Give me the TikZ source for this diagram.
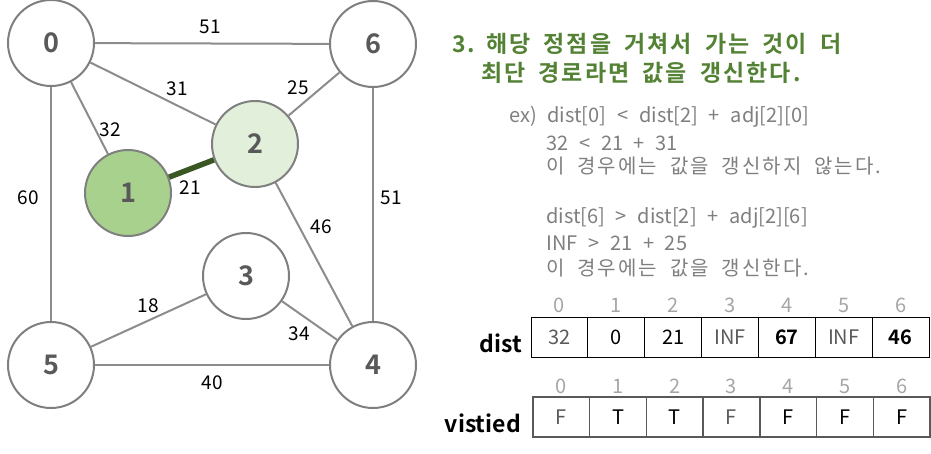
\documentclass[tikz,border=0pt]{standalone}
\usepackage{fontspec}
\setmainfont{Noto Sans CJK KR}[BoldFont={Noto Sans CJK KR Bold}]
\newfontfamily\headfont{Noto Sans CJK KR Bold}[LetterSpace=9, WordSpace=1.8]
\newfontfamily\notekr{Noto Sans CJK KR}[LetterSpace=10, WordSpace=2.0]
\newfontfamily\notelat{Noto Sans CJK KR}[WordSpace=2.4]
\definecolor{cBorder}{HTML}{7F7F7F}
\definecolor{cEdge}{HTML}{8C8C8C}
\definecolor{cNum}{HTML}{595959}
\definecolor{cGreenA}{HTML}{A9D18E}
\definecolor{cGreenB}{HTML}{E2EFDA}
\definecolor{cDark}{HTML}{385723}
\definecolor{cHead}{HTML}{548235}
\definecolor{cGray}{HTML}{7F7F7F}
\definecolor{cIdx}{HTML}{A6A6A6}
\definecolor{cCell}{HTML}{595959}
\tikzset{
  vtx/.style={circle, draw=cBorder, line width=2pt, minimum size=86pt, inner sep=0pt,
    font=\fontsize{27}{30}\selectfont\bfseries, text=cNum, fill=white},
  edge/.style={draw=cEdge, line width=2pt},
  wlab/.style={font=\fontsize{19}{22}\selectfont, text=black, inner sep=0pt},
  head/.style={font=\headfont\fontsize{23}{25}\selectfont, text=cHead, inner sep=0pt, anchor=west},
  notek/.style={font=\notekr\fontsize{20}{22}\selectfont, text=cGray, inner sep=0pt, anchor=west},
  notel/.style={font=\notelat\fontsize{20}{22}\selectfont, text=cGray, inner sep=0pt, anchor=west},
  dcell/.style={draw=black, line width=1pt, minimum width=56.86pt, minimum height=40pt, inner sep=0pt,
    font=\fontsize{20}{22}\selectfont},
  vcell/.style={draw=cNum, line width=1.4pt, minimum width=56.71pt, minimum height=40pt, inner sep=0pt,
    font=\fontsize{20}{22}\selectfont},
  idx/.style={font=\fontsize{20}{22}\selectfont, text=cIdx, inner sep=0pt},
  tlab/.style={font=\fontsize{23}{26}\selectfont\bfseries, text=black, inner sep=0pt, anchor=east},
}
\begin{document}
\begin{tikzpicture}[x=1pt,y=-1pt]
\useasboundingbox (0,0) rectangle (931,453);
% vertices
\node[vtx] (n0) at (51,43) {0};
\node[vtx] (n6) at (373,44) {6};
\node[vtx, fill=cGreenB] (n2) at (255,144) {2};
\node[vtx, fill=cGreenA] (n1) at (128,193) {1};
\node[vtx] (n3) at (246,276) {3};
\node[vtx] (n5) at (51,365) {5};
\node[vtx] (n4) at (373,365) {4};
% edges
\draw[edge] (n0) -- (n6);
\draw[edge] (n0) -- (n2);
\draw[edge] (n0) -- (n1);
\draw[edge] (n0) -- (n5);
\draw[edge] (n6) -- (n2);
\draw[edge] (n6) -- (n4);
\draw[edge] (n2) -- (n4);
\draw[edge] (n3) -- (n5);
\draw[edge] (n3) -- (n4);
\draw[edge] (n5) -- (n4);
\draw[draw=cDark, line width=5.5pt] (n1) -- (n2);
% weights
\node[wlab] (w06) at (210,27) {51};
\node[wlab] (w02) at (177,89) {31};
\node[wlab] (w01) at (110,130) {32};
\node[wlab] (w05) at (28,198) {60};
\node[wlab] (w62) at (298,88) {25};
\node[wlab] (w64) at (391,198) {51};
\node[wlab] (w12) at (190,188) {21};
\node[wlab] (w24) at (321,227) {46};
\node[wlab] (w35) at (148,306) {18};
\node[wlab] (w34) at (299,334) {34};
\node[wlab] (w54) at (212,383) {40};
% heading
\node[head] (h0) at (452,44) {3.};
\node[head] (h1) at (486,44) {해당 정점을 거쳐서 가는 것이 더};
\node[head] (h2) at (481,73) {최단 경로라면 값을 갱신한다.};
% notes
\node[notel] (t1) at (509,117) {ex) dist[0] < dist[2] + adj[2][0]};
\node[notel] (t2) at (546,143) {32 < 21 + 31};
\node[notek] (t3) at (546,166) {이 경우에는 값을 갱신하지 않는다.};
\node[notel] (t4) at (546,218) {dist[6] > dist[2] + adj[2][6]};
\node[notel] (t5) at (546,243) {INF > 21 + 25};
\node[notek] (t6) at (546,268) {이 경우에는 값을 갱신한다.};
% dist table
\foreach \i/\t/\c in {0/32/cCell,1/0/black,2/21/black,3/INF/cCell,4/\textbf{67}/black,5/INF/cCell,6/\textbf{46}/black}{
  \node[dcell, text=\c] (d\i) at ({559.43+\i*56.857},337) {\t};
  \node[idx] (di\i) at ({559.43+\i*56.857},305) {\i};
}
\node[tlab] (dl) at (522,343) {dist};
% visited table
\foreach \i/\t/\c in {0/F/cCell,1/T/black,2/T/black,3/F/cCell,4/F/black,5/F/black,6/F/black}{
  \node[vcell, text=\c] (v\i) at ({561.36+\i*56.714},417) {\t};
  \node[idx] (vi\i) at ({561.36+\i*56.714},386) {\i};
}
\node[tlab] (vl) at (521,423) {vistied};
\end{tikzpicture}
\end{document}
